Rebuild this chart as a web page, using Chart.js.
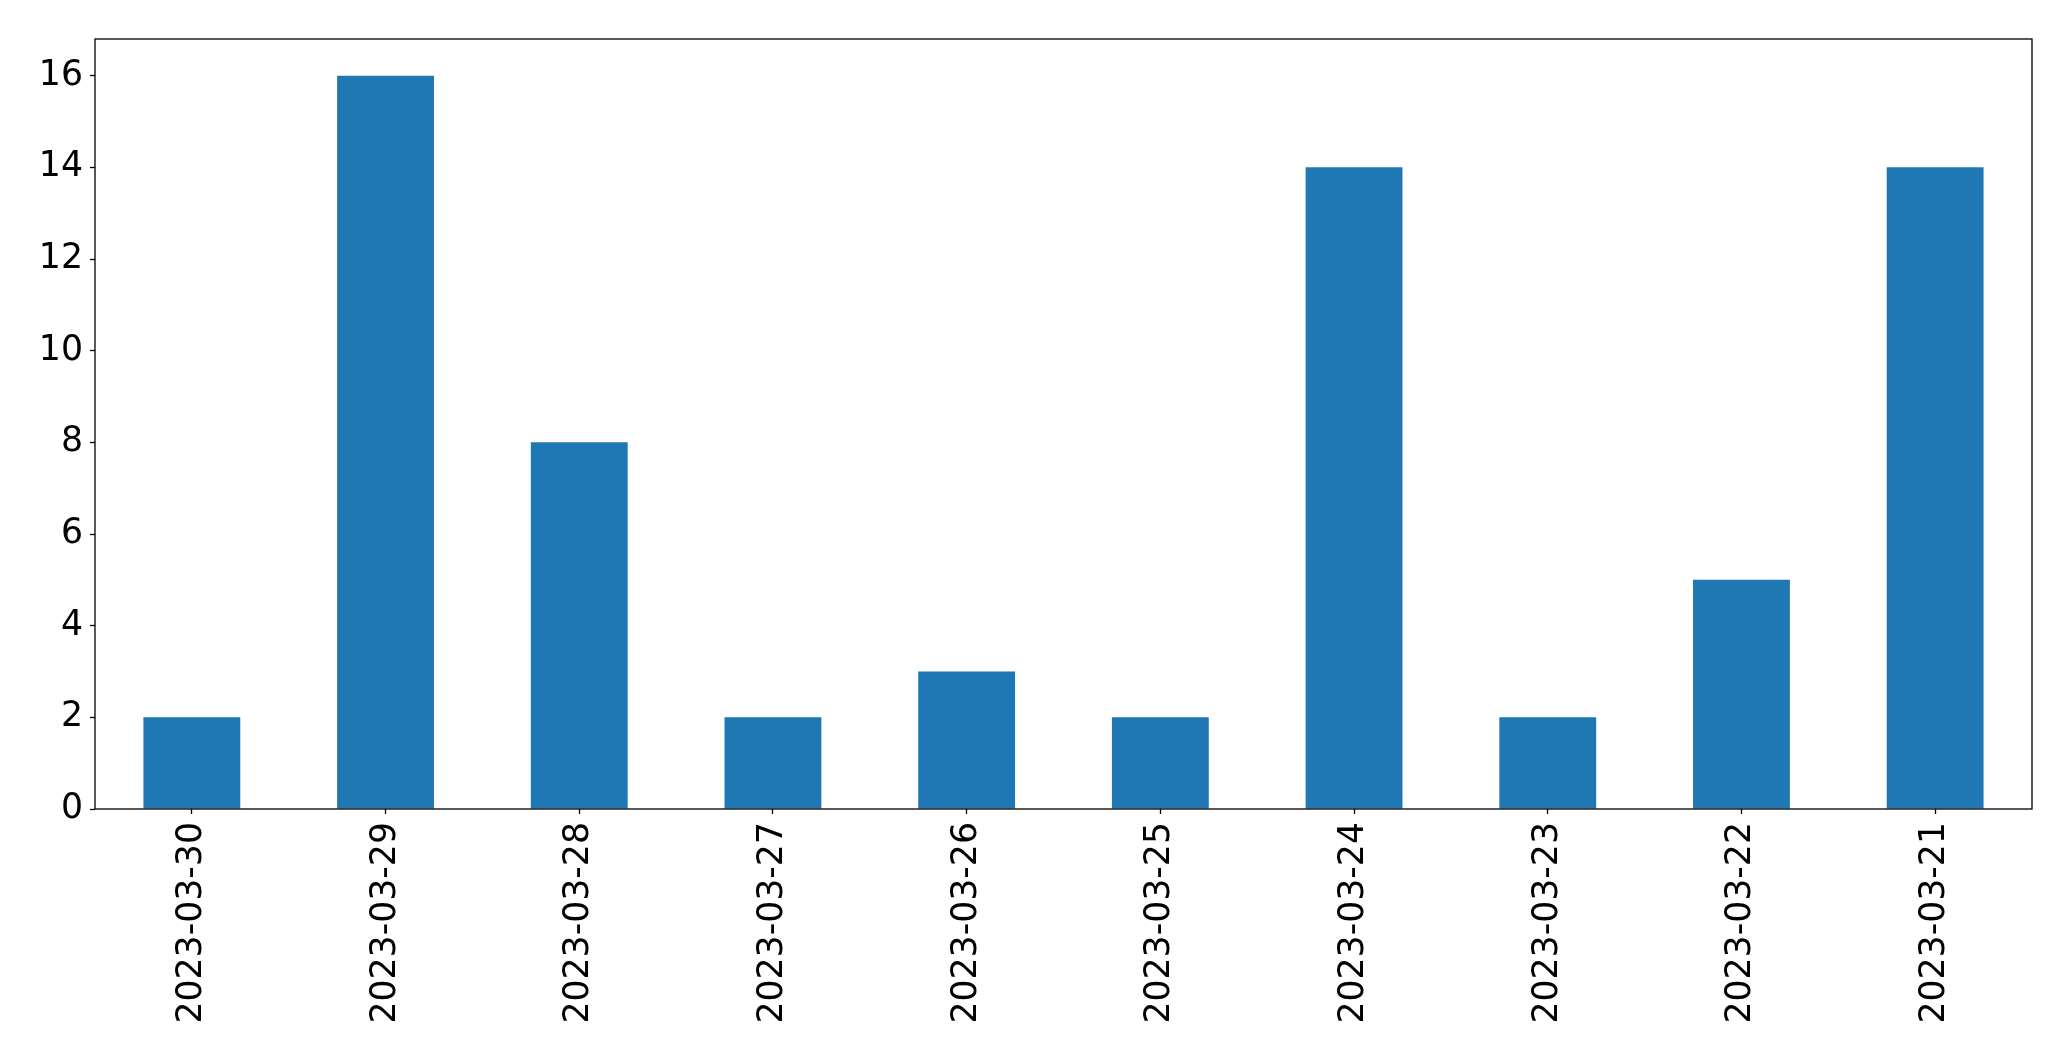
<!DOCTYPE html>
<html>
<head>
<meta charset="utf-8">
<script src="https://cdn.jsdelivr.net/npm/chart.js@4"></script>
<style>
  html, body { margin: 0; padding: 0; background: #fff; }
  #wrap { width: 2071px; height: 1061px; }
</style>
</head>
<body>
<div id="wrap"><canvas id="chart" width="2071" height="1061"></canvas></div>
<script>
// dates as they appear on the x axis (newest first)
const dates = ['2023-03-30', '2023-03-29', '2023-03-28', '2023-03-27', '2023-03-26',
               '2023-03-25', '2023-03-24', '2023-03-23', '2023-03-22', '2023-03-21'];
const counts = [2, 16, 8, 2, 3, 2, 14, 2, 5, 14];
const yTicks = [0, 2, 4, 6, 8, 10, 12, 14, 16];

// frame around the plot area, like matplotlib spines
const frame = {
    id: 'frame',
    afterDraw(chart) {
        const { ctx, chartArea: a } = chart;
        ctx.save();
        ctx.strokeStyle = '#000';
        ctx.lineWidth = 1.3;
        ctx.strokeRect(a.left, a.top, a.right - a.left, a.bottom - a.top);
        ctx.restore();
    }
};

new Chart(document.getElementById('chart'), {
    type: 'bar',
    data: {
        labels: dates,
        datasets: [{
            data: counts,
            backgroundColor: '#1f77b4',
            borderWidth: 0,
            barPercentage: 0.5,
            categoryPercentage: 1.0
        }]
    },
    options: {
        responsive: false,
        animation: false,
        layout: { padding: { top: 39, right: 39, left: 0, bottom: 0 } },
        plugins: {
            legend: { display: false },
            tooltip: { enabled: false }
        },
        scales: {
            x: {
                afterFit(scale) { scale.height = 252; },
                grid: {
                    offset: false,
                    drawOnChartArea: false,
                    tickLength: 5,
                    tickColor: '#000',
                    tickWidth: 1.3
                },
                border: { display: false },
                ticks: {
                    autoSkip: false,
                    minRotation: 90,
                    maxRotation: 90,
                    padding: 8,
                    color: '#000',
                    font: { family: 'DejaVu Sans', size: 34.7 }
                }
            },
            y: {
                min: 0,
                max: 16.8,
                afterFit(scale) { scale.width = 95; },
                afterBuildTicks(scale) {
                    scale.ticks = yTicks.map(v => ({ value: v }));
                },
                grid: {
                    drawOnChartArea: false,
                    tickLength: 5,
                    tickColor: '#000',
                    tickWidth: 1.3
                },
                border: { display: false },
                ticks: {
                    padding: 7,
                    color: '#000',
                    font: { family: 'DejaVu Sans', size: 34.7 }
                }
            }
        }
    },
    plugins: [frame]
});
</script>
</body>
</html>
